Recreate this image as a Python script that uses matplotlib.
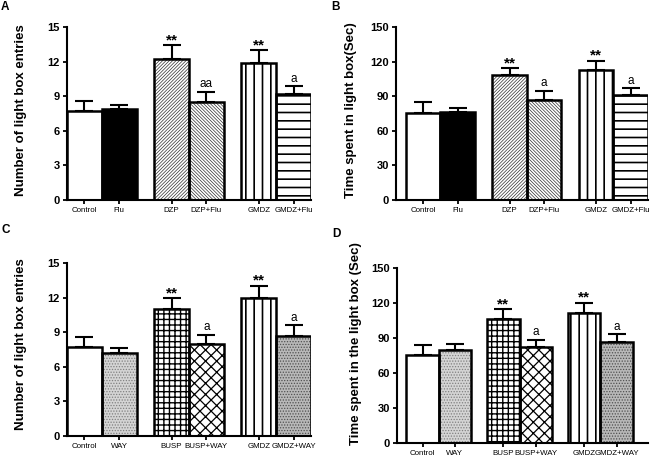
import matplotlib
matplotlib.use("Agg")
import matplotlib.pyplot as plt

plt.rcParams['font.family'] = ['Liberation Sans', 'DejaVu Sans']

# --- data ---
groups_ab = ["Control", "Flu", "DZP", "DZP+Flu", "GMDZ", "GMDZ+Flu"]
groups_cd = ["Control", "WAY", "BUSP", "BUSP+WAY", "GMDZ", "GMDZ+WAY"]
positions = [0, 1, 2.5, 3.5, 5, 6]

entries_a = [7.7, 7.85, 12.2, 8.5, 11.9, 9.2]
entries_a_err = [0.85, 0.35, 1.2, 0.9, 1.1, 0.65]
time_b = [75.3, 76.5, 108.6, 86.3, 112.4, 91.2]
time_b_err = [9.8, 3.1, 5.8, 8.4, 8.4, 5.5]
entries_c = [7.7, 7.2, 11.0, 8.0, 11.95, 8.7]
entries_c_err = [0.9, 0.45, 0.95, 0.8, 1.1, 0.9]
time_d = [75.4, 80.0, 106.9, 82.3, 112.0, 87.1]
time_d_err = [9.2, 5.4, 8.2, 6.6, 8.6, 6.6]

marks_a = ["", "", "**", "aa", "**", "a"]
marks_bcd = ["", "", "**", "a", "**", "a"]

# (facecolor, hatch, hatch colour, hatch linewidth) per bar
style_ab = [("white", "", "k", 1), ("black", "", "k", 1), ("white", "/" * 10, "#303030", 0.5),
            ("white", "\\" * 10, "#303030", 0.5), ("white", "||", "k", 1.2), ("white", "--", "k", 1.2)]
style_cd = [("white", "", "k", 1), ("#d4d4d4", "......", "#808080", 0.6), ("white", "+++", "k", 1.0),
            ("white", "xxx", "k", 0.9), ("white", "||", "k", 1.2), ("#b8b8b8", "......", "#505050", 0.6)]

fig = plt.figure(figsize=(6.6, 4.68), dpi=100)


def panel(rect, vals, errs, labels, styles, marks, ymax, xlim):
    ax = fig.add_axes(rect)
    for x, v, (fc, h, hc, hlw) in zip(positions, vals, styles):
        with plt.rc_context({"hatch.linewidth": hlw}):
            bars = ax.bar(x, v, width=1.0, color=fc, edgecolor=hc, hatch=h, linewidth=0, zorder=2)
            for p in bars:
                if hasattr(p, "set_hatch_linewidth"):
                    p.set_hatch_linewidth(hlw)
        ax.bar(x, v, width=1.0, fill=False, edgecolor="k", linewidth=1.8, zorder=3)
    ax.errorbar(positions, vals, yerr=[[0] * len(vals), errs], fmt="none",
                ecolor="k", elinewidth=1.5, capsize=6.5, capthick=1.5, zorder=1)
    for x, v, e, m in zip(positions, vals, errs, marks):
        if not m:
            continue
        if m == "**":
            ax.annotate(m, (x, v + e), xytext=(0, -1.5), textcoords="offset points",
                        ha="center", va="bottom", fontsize=11, fontweight="bold")
        else:
            ax.annotate(m, (x, v + e), xytext=(0, 1), textcoords="offset points",
                        ha="center", va="bottom", fontsize=8.5)
    ax.set_xlim(*xlim)
    ax.set_ylim(0, ymax)
    ax.set_yticks([ymax * i / 5 for i in range(6)])
    ax.set_yticklabels([f"{ymax * i / 5:g}" for i in range(6)], fontweight="bold", fontsize=8)
    ax.set_xticks(positions)
    ax.set_xticklabels(labels, fontsize=5.7)
    ax.spines[["top", "right"]].set_visible(False)
    ax.spines[["left", "bottom"]].set_linewidth(1.5)
    ax.tick_params(axis="both", direction="out", length=3, width=1.3, pad=2)
    return ax


W, H = 660.0, 468.0


def rect(l, r, b, t):
    return [l / W, 1 - b / H, (r - l) / W, (b - t) / H]


panel(rect(67, 311, 200, 27), entries_a, entries_a_err, groups_ab, style_ab, marks_a, 15, (-0.5, 6.5))
panel(rect(396, 648, 200, 27), time_b, time_b_err, groups_ab, style_ab, marks_bcd, 150, (-0.78, 6.5))
panel(rect(67, 311, 435.7, 263.3), entries_c, entries_c_err, groups_cd, style_cd, marks_bcd, 15, (-0.5, 6.5))
panel(rect(397, 648, 443.3, 268.3), time_d, time_d_err, groups_cd, style_cd, marks_bcd, 150, (-0.79, 6.97))

ylabels = [(21, 110, "Number of light box entries"),
           (351, 110, "Time spent in light box(Sec)"),
           (21, 344, "Number of light box entries"),
           (356, 344, "Time spent in the light box (Sec)")]
for x, y, s in ylabels:
    fig.text(x / W, 1 - y / H, s, rotation=90, ha="center", va="center",
             fontsize=9.5, fontweight="bold")

for x, y, s in [(5, 7, "A"), (336, 7, "B"), (6, 230, "C"), (336, 234, "D")]:
    fig.text(x / W, 1 - y / H, s, ha="center", va="center", fontsize=8.5, fontweight="bold")

fig.savefig("out.png", dpi=100)
